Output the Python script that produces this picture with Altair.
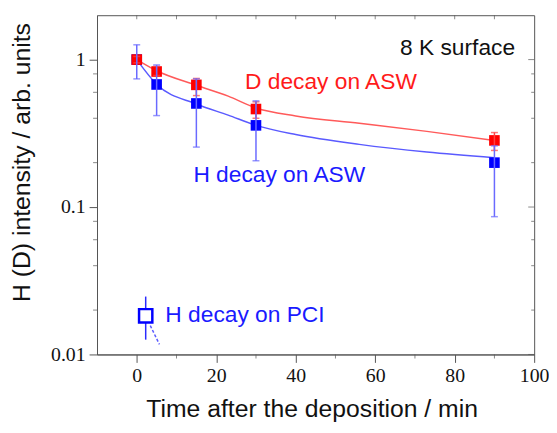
import altair as alt
import pandas as pd

# measured points
t = [0, 5, 15, 30, 90]
d_val = [1.0, 0.83, 0.674, 0.462, 0.283]
d_lo = [0.95, 0.78, 0.57, 0.40, 0.242]
d_hi = [1.05, 0.90, 0.745, 0.517, 0.32]
h_val = [1.0, 0.678, 0.504, 0.358, 0.20]
h_lo = [0.74, 0.417, 0.255, 0.206, 0.086]
h_hi = [1.26, 0.92, 0.74, 0.525, 0.26]

# fitted curves
fit_t = [0, 5, 15, 23, 30, 40, 56, 73, 90]
d_fit = [1.0, 0.84, 0.67, 0.565, 0.47, 0.415, 0.37, 0.326, 0.283]
h_fit = [1.0, 0.68, 0.50, 0.42, 0.358, 0.31, 0.266, 0.236, 0.216]

# PCI point
pci_t = [2.25]
pci_val = [0.0183]
pci_lo = [0.0126]
pci_hi = [0.0247]
pci_dash_t = [3.4, 5.7]
pci_dash_v = [0.0157, 0.0117]

# annotations
ann_text = ["8 K surface", "D decay on ASW", "H decay on ASW", "H decay on PCI"]
ann_t = [66.25, 27.25, 14.25, 7.2]
ann_v = [1.075, 0.634, 0.147, 0.0167]
ann_color = ["#111111", "#ff1a1a", "#1a1aff", "#1a1aff"]

x_major = [0, 20, 40, 60, 80, 100]
x_minor = [10, 30, 50, 70, 90]
x_top = [0, 10, 20, 30, 40, 50, 60, 70, 80, 90]
y_major = [0.01, 0.1, 1]
y_minor = [0.02, 0.04, 0.06, 0.08, 0.2, 0.4, 0.6, 0.8]

W, H = 442, 343
AX = "#555555"

xs = alt.Scale(domain=[-10, 100], nice=False, zero=False)
ys = alt.Scale(type="log", domain=[0.01, 2], nice=False)

pts = pd.DataFrame({"t": t, "d": d_val, "dlo": d_lo, "dhi": d_hi,
                    "h": h_val, "hlo": h_lo, "hhi": h_hi})
fit = pd.DataFrame({"t": fit_t, "d": d_fit, "h": h_fit})
pci = pd.DataFrame({"t": pci_t, "v": pci_val, "lo": pci_lo, "hi": pci_hi})
dash = pd.DataFrame({"t": pci_dash_t, "v": pci_dash_v})
ann = pd.DataFrame({"txt": ann_text, "t": ann_t, "v": ann_v, "c": ann_color})

xaxis = alt.Axis(values=x_major, tickSize=8, labelFont="Liberation Serif", labelFontSize=20,
                 labelPadding=3, labelColor="#111", labelFlush=False,
                 title="Time after the deposition / min",
                 titleFont="Liberation Sans", titleFontSize=25, titleFontWeight="normal",
                 titleColor="#111", titleX=217, titleY=55, titleBaseline="middle",
                 titleAlign="center", grid=False, domainColor=AX, tickColor=AX)
yaxis = alt.Axis(values=y_major, format="~g", tickSize=8, labelFont="Liberation Serif",
                 labelFontSize=20, labelPadding=4, labelColor="#111", labelFlush=False,
                 title="H (D) intensity / arb. units", titleFont="Liberation Sans",
                 titleFontSize=25, titleFontWeight="normal", titleColor="#111",
                 titleX=-76, titleY=148.5, titleAngle=270, titleBaseline="middle",
                 titleAlign="center", grid=False, domainColor=AX, tickColor=AX)


def X(f="t"):
    return alt.X(f + ":Q", scale=xs, axis=xaxis)


def Y(f):
    return alt.Y(f + ":Q", scale=ys, axis=yaxis)


base_fit = alt.Chart(fit)
red_line = base_fit.mark_line(color="#ff5a5a", strokeWidth=1.5, interpolate="monotone").encode(
    x=X(), y=Y("d"))
blue_line = base_fit.mark_line(color="#5a5aff", strokeWidth=1.5, interpolate="monotone").encode(
    x=X(), y=Y("h"))

bp = alt.Chart(pts)
blue_sq = bp.mark_square(size=115, color="#0000ff", opacity=1).encode(x=X(), y=Y("h"))
red_sq = bp.mark_square(size=115, color="#ff0000", opacity=1).encode(x=X(), y=Y("d"))

red_err = bp.mark_rule(color="#ff4040", strokeWidth=1.5).encode(x=X(), y=Y("dlo"), y2="dhi:Q")
red_cap_lo = bp.mark_tick(color="#ff4040", orient="horizontal", size=7, thickness=1.5).encode(
    x=X(), y=Y("dlo"))
red_cap_hi = bp.mark_tick(color="#ff4040", orient="horizontal", size=7, thickness=1.5).encode(
    x=X(), y=Y("dhi"))

blue_err = bp.mark_rule(color="#6a6aff", strokeWidth=1.5).encode(x=X(), y=Y("hlo"), y2="hhi:Q")
blue_cap_lo = bp.mark_tick(color="#6a6aff", orient="horizontal", size=7, thickness=1.5).encode(
    x=X(), y=Y("hlo"))
blue_cap_hi = bp.mark_tick(color="#6a6aff", orient="horizontal", size=7, thickness=1.5).encode(
    x=X(), y=Y("hhi"))

pp = alt.Chart(pci)
pci_err = pp.mark_rule(color="#2a2aff", strokeWidth=1.5).encode(x=X(), y=Y("lo"), y2="hi:Q")
pci_sq = pp.mark_square(size=180, filled=True, fill="white", stroke="#0000ff",
                        strokeWidth=2.5, opacity=1).encode(x=X(), y=Y("v"))
pci_dash = alt.Chart(dash).mark_line(color="#5a5aff", strokeWidth=1.5, strokeDash=[3, 2]).encode(
    x=X(), y=Y("v"))

texts = alt.Chart(ann).mark_text(align="left", baseline="alphabetic", font="Liberation Sans",
                                 fontSize=23).encode(
    x=X(), y=Y("v"), text="txt:N", color=alt.Color("c:N", scale=None))

# minor / mirrored ticks
xmin_df = pd.DataFrame({"t": x_minor})
xtop_df = pd.DataFrame({"t": x_top})
ymaj_df = pd.DataFrame({"v": y_major})
ymin_df = pd.DataFrame({"v": y_minor})

bot_minor = alt.Chart(xmin_df).mark_tick(color=AX, orient="vertical", size=4, thickness=1).encode(
    x=X(), y=alt.value(H + 2))
top_ticks = alt.Chart(xtop_df).mark_tick(color=AX, orient="vertical", size=4, thickness=1).encode(
    x=X(), y=alt.value(2))
left_minor = alt.Chart(ymin_df).mark_tick(color=AX, orient="horizontal", size=4, thickness=1).encode(
    y=Y("v"), x=alt.value(-2))
right_major = alt.Chart(ymaj_df).mark_tick(color=AX, orient="horizontal", size=6, thickness=1).encode(
    y=Y("v"), x=alt.value(W - 3))
right_minor = alt.Chart(ymin_df).mark_tick(color=AX, orient="horizontal", size=3, thickness=1).encode(
    y=Y("v"), x=alt.value(W - 1.5))

chart = alt.layer(
    red_line, blue_line, bot_minor, top_ticks, left_minor, right_major, right_minor,
    blue_sq, red_sq, red_err, red_cap_lo, red_cap_hi,
    blue_err, blue_cap_lo, blue_cap_hi,
    pci_err, pci_sq, pci_dash, texts
).properties(
    width=W, height=H,
    autosize=alt.AutoSizeParams(type="none"),
    padding={"left": 90, "top": 5, "right": 15, "bottom": 66},
    background="white"
).configure_view(stroke=AX, strokeWidth=1)

chart.save("out.html", embed_options={"renderer": "svg", "actions": False})
